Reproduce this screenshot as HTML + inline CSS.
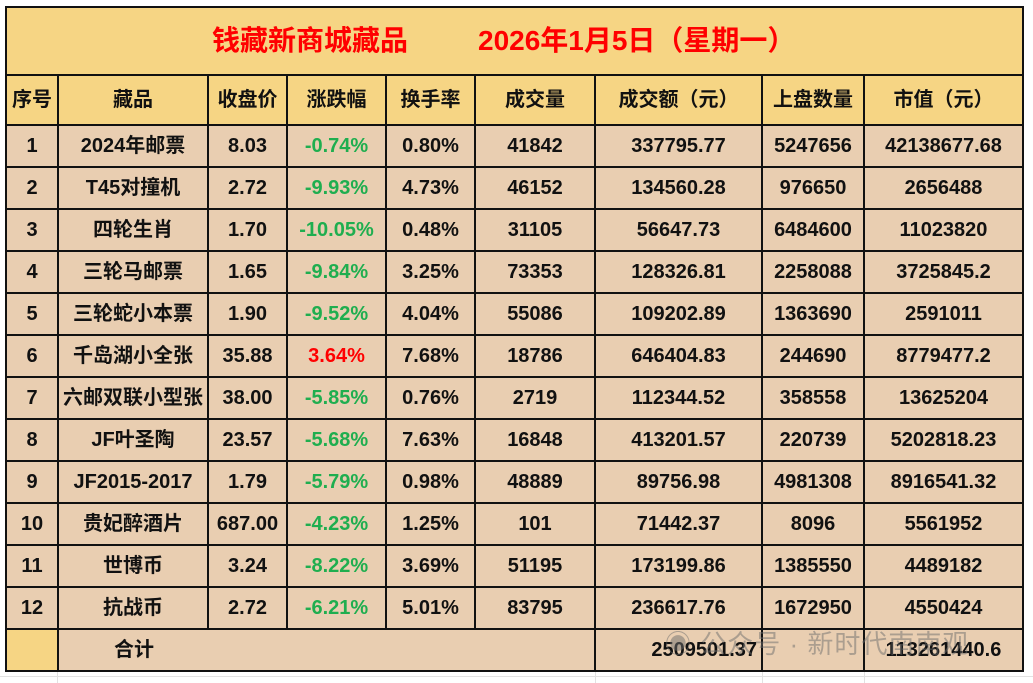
<!DOCTYPE html><html><head><meta charset="utf-8"><style>
body{margin:0;width:1033px;height:683px;background:#fff;position:relative;overflow:hidden;font-family:"Liberation Sans","Noto Sans CJK SC",sans-serif;}
.g{position:absolute;background:#e2e2e2}
table{position:absolute;left:5px;top:6px;border-collapse:collapse;table-layout:fixed;font-weight:bold;font-size:20px;color:#111}
td{border:2px solid #111;text-align:center;height:40px;line-height:20px;padding:0;white-space:nowrap;overflow:visible;background:#e9ceb1;vertical-align:middle}
tr.h td{background:#f6d584;height:48px}
tr.t td{background:#f6d584;height:66px}
.gr{color:#1fae4f}.rd{color:#f00}
.tt{position:absolute;top:24px;font-size:28px;line-height:34px;color:#f00;font-weight:bold}
.wm{position:absolute;left:665px;top:624px;font-size:26px;color:rgba(110,110,110,.5);font-weight:normal;letter-spacing:1px}
</style></head><body>
<div class="g" style="left:0;top:676px;width:1033px;height:1px"></div>
<div class="g" style="left:57px;top:670px;width:1px;height:13px"></div>
<div class="g" style="left:595px;top:670px;width:1px;height:13px"></div>
<div class="g" style="left:762px;top:670px;width:1px;height:13px"></div>
<div class="g" style="left:864px;top:670px;width:1px;height:13px"></div>
<table>
<colgroup><col style="width:52px"><col style="width:150px"><col style="width:79px"><col style="width:99px"><col style="width:89px"><col style="width:120px"><col style="width:167px"><col style="width:102px"><col style="width:159px"></colgroup>
<tr class="t"><td colspan="9"></td></tr>
<tr class="h"><td>序号</td><td>藏品</td><td>收盘价</td><td>涨跌幅</td><td>换手率</td><td>成交量</td><td>成交额（元）</td><td>上盘数量</td><td>市值（元）</td></tr>
<tr><td>1</td><td>2024年邮票</td><td>8.03</td><td class="gr">-0.74%</td><td>0.80%</td><td>41842</td><td>337795.77</td><td>5247656</td><td>42138677.68</td></tr>
<tr><td>2</td><td>T45对撞机</td><td>2.72</td><td class="gr">-9.93%</td><td>4.73%</td><td>46152</td><td>134560.28</td><td>976650</td><td>2656488</td></tr>
<tr><td>3</td><td>四轮生肖</td><td>1.70</td><td class="gr">-10.05%</td><td>0.48%</td><td>31105</td><td>56647.73</td><td>6484600</td><td>11023820</td></tr>
<tr><td>4</td><td>三轮马邮票</td><td>1.65</td><td class="gr">-9.84%</td><td>3.25%</td><td>73353</td><td>128326.81</td><td>2258088</td><td>3725845.2</td></tr>
<tr><td>5</td><td>三轮蛇小本票</td><td>1.90</td><td class="gr">-9.52%</td><td>4.04%</td><td>55086</td><td>109202.89</td><td>1363690</td><td>2591011</td></tr>
<tr><td>6</td><td>千岛湖小全张</td><td>35.88</td><td class="rd">3.64%</td><td>7.68%</td><td>18786</td><td>646404.83</td><td>244690</td><td>8779477.2</td></tr>
<tr><td>7</td><td>六邮双联小型张</td><td>38.00</td><td class="gr">-5.85%</td><td>0.76%</td><td>2719</td><td>112344.52</td><td>358558</td><td>13625204</td></tr>
<tr><td>8</td><td>JF叶圣陶</td><td>23.57</td><td class="gr">-5.68%</td><td>7.63%</td><td>16848</td><td>413201.57</td><td>220739</td><td>5202818.23</td></tr>
<tr><td>9</td><td>JF2015-2017</td><td>1.79</td><td class="gr">-5.79%</td><td>0.98%</td><td>48889</td><td>89756.98</td><td>4981308</td><td>8916541.32</td></tr>
<tr><td>10</td><td>贵妃醉酒片</td><td>687.00</td><td class="gr">-4.23%</td><td>1.25%</td><td>101</td><td>71442.37</td><td>8096</td><td>5561952</td></tr>
<tr><td>11</td><td>世博币</td><td>3.24</td><td class="gr">-8.22%</td><td>3.69%</td><td>51195</td><td>173199.86</td><td>1385550</td><td>4489182</td></tr>
<tr><td>12</td><td>抗战币</td><td>2.72</td><td class="gr">-6.21%</td><td>5.01%</td><td>83795</td><td>236617.76</td><td>1672950</td><td>4550424</td></tr>
<tr><td style="background:#f6d584"></td><td colspan="5" style="text-align:left;padding-left:55px">合计</td><td style="text-align:right;padding-right:4px">2509501.37</td><td></td><td>113261440.6</td></tr>
</table>
<div class="tt" style="left:212px">钱藏新商城藏品</div>
<div class="tt" style="left:478px">2026年1月5日（星期一）</div>
<div class="wm">◉ 公众号 · 新时代南南观</div>
</body></html>
